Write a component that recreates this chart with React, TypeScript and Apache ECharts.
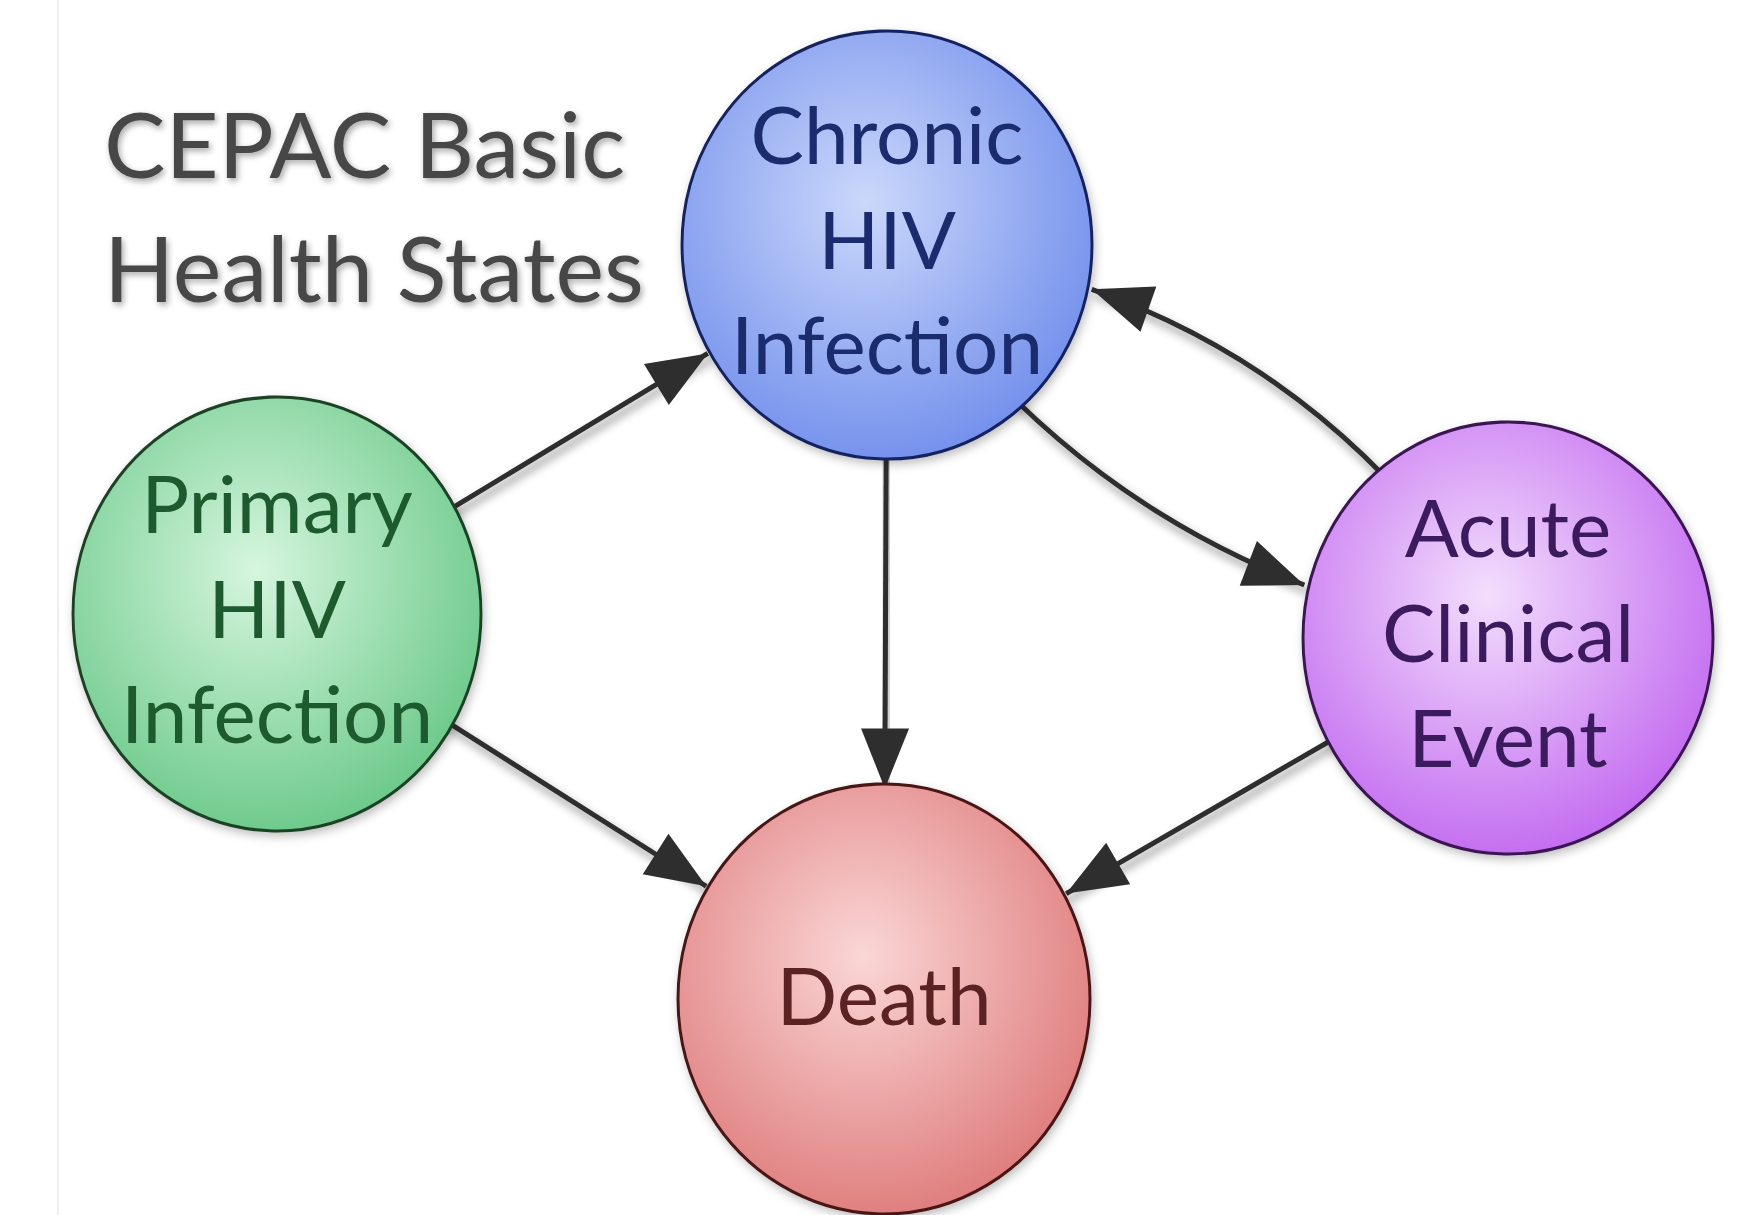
import React, { useEffect, useRef } from 'react';
import * as echarts from 'echarts';

// ---- data ----
const titleLines = ['CEPAC Basic', 'Health States'];
const nodeNames = ['Primary', 'Chronic', 'Acute', 'Death'];
const nodeLabelLines = [
  ['Primary', 'HIV', 'Infection'],
  ['Chronic', 'HIV', 'Infection'],
  ['Acute', 'Clinical', 'Event'],
  ['Death'],
];
const nodeX = [277, 887, 1508, 884];
const nodeY = [614, 245, 638, 999];
const linkFrom = ['Primary', 'Primary', 'Chronic', 'Chronic', 'Acute', 'Acute'];
const linkTo = ['Chronic', 'Death', 'Death', 'Acute', 'Chronic', 'Death'];
const linkCurveness = [0, 0, 0, -0.22, -0.25, 0];

// ---- styles ----
const W = 1744;
const H = 1215;
const nodeSizes = [[408, 434], [410, 428], [410, 432], [412, 430]];
const nodeInner = ['#d6f6de', '#cbd8fb', '#f3defd', '#fbd6d6'];
const nodeOuter = ['#6cc98a', '#7390ec', '#c36bf0', '#df7d7d'];
const nodeBorder = ['#1d4227', '#15225e', '#3a1452', '#4a1616'];
const nodeText = ['#1d5a2d', '#1b2c6e', '#3c1a5e', '#5a2222'];
const labelOffsetY = [-7, -7, -7, -5];
const FONT = 'Lato, "Open Sans", sans-serif';
const ARROW = 'path://M0,120L24,60L48,120ZM24,0';

export default function App() {
  const ref = useRef<HTMLDivElement>(null);
  useEffect(() => {
    if (!ref.current) return;
    const chart = echarts.init(ref.current, null, { renderer: 'svg' });
    const nodes = nodeNames.map((name, i) => ({
      name,
      value: [nodeX[i], nodeY[i]],
      symbolSize: nodeSizes[i],
      itemStyle: {
        color: {
          type: 'radial',
          x: 0.45,
          y: 0.4,
          r: 0.62,
          colorStops: [
            { offset: 0, color: nodeInner[i] },
            { offset: 1, color: nodeOuter[i] },
          ],
        },
        borderColor: nodeBorder[i],
        borderWidth: 3,
        shadowBlur: 10,
        shadowColor: 'rgba(0,0,0,0.25)',
        shadowOffsetX: 2,
        shadowOffsetY: 4,
      },
      label: {
        show: true,
        position: 'inside',
        formatter: nodeLabelLines[i].join('\n'),
        color: nodeText[i],
        fontFamily: FONT,
        fontSize: 80,
        lineHeight: 105,
        offset: [0, labelOffsetY[i]],
      },
    }));
    const links = linkFrom.map((s, i) => ({
      source: s,
      target: linkTo[i],
      lineStyle: { curveness: linkCurveness[i] },
    }));
    chart.setOption({
      animation: false,
      backgroundColor: '#ffffff',
      title: {
        text: titleLines.join('\n'),
        left: 104,
        top: 80,
        padding: 0,
        textStyle: {
          fontFamily: FONT,
          fontSize: 92,
          fontWeight: 'normal',
          lineHeight: 124,
          color: '#474747',
          textShadowColor: 'rgba(0,0,0,0.35)',
          textShadowBlur: 6,
          textShadowOffsetX: 2,
          textShadowOffsetY: 3,
        },
      },
      grid: { left: 0, right: 0, top: 0, bottom: 0 },
      xAxis: { type: 'value', min: 0, max: W, show: false },
      yAxis: { type: 'value', min: 0, max: H, inverse: true, show: false },
      graphic: [
        {
          type: 'line',
          shape: { x1: 58, y1: 0, x2: 58, y2: H },
          style: { stroke: '#efefef', lineWidth: 2 },
          silent: true,
        },
      ],
      series: [
        {
          type: 'graph',
          coordinateSystem: 'cartesian2d',
          layout: 'none',
          data: nodes,
          links,
          edgeSymbol: ['none', ARROW],
          edgeSymbolSize: [0, [48, 120]],
          lineStyle: {
            color: '#2e2e2e',
            width: 5,
            opacity: 1,
            shadowBlur: 10,
            shadowColor: 'rgba(0,0,0,0.45)',
            shadowOffsetX: 3,
            shadowOffsetY: 6,
          },
          emphasis: { disabled: true },
        },
      ],
    });
    return () => chart.dispose();
  }, []);
  return (
    <div
      ref={ref}
      style={{ position: 'absolute', left: 0, top: 0, width: W, height: H }}
    />
  );
}
